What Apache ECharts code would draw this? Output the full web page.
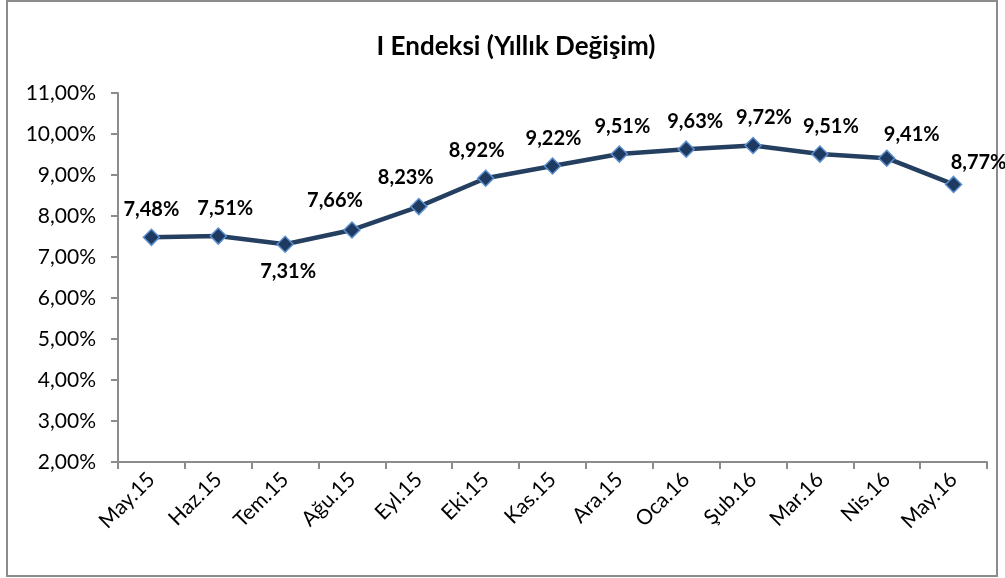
<!DOCTYPE html>
<html><head><meta charset="utf-8">
<script src="https://cdn.jsdelivr.net/npm/echarts@6/dist/echarts.min.js"></script>
<style>html,body{margin:0;padding:0;background:#fff}#c{width:1005px;height:578px}</style>
</head><body><div id="c"></div>
<script>
var categories = ['May.15','Haz.15','Tem.15','Ağu.15','Eyl.15','Eki.15','Kas.15','Ara.15','Oca.16','Şub.16','Mar.16','Nis.16','May.16'];
var values = [7.48, 7.51, 7.31, 7.66, 8.23, 8.92, 9.22, 9.51, 9.63, 9.72, 9.51, 9.41, 8.77];
var belowIdx = [2];
var labelShiftX = [0, 7, 3, -17, -13, -9, 1, 3, 9, 11, 11, 25, 25];
var labelShiftY = [0, 0, 0, -2, -1, 0, 0, 0, 0, 0, 0, 4, 6];
var fmt = function(v){ return v.toFixed(2).replace('.', ',') + '%'; };
var chart = echarts.init(document.getElementById('c'), null, {renderer:'canvas'});
var font = 'Lato, "Open Sans", sans-serif';
chart.setOption({
  animation:false,
  title:{text:'I Endeksi (Yıllık Değişim)', left:511, top:29, textAlign:'center',
    textStyle:{fontFamily:font, fontWeight:'bold', fontSize:26, color:'#000'}},
  graphic:[{type:'rect', shape:{x:7, y:1, width:990, height:575}, style:{fill:'none', stroke:'#8c8c8c', lineWidth:2}, silent:true}],
  grid:{left:118, right:18, top:93, bottom:116, containLabel:false},
  xAxis:{type:'category', data:categories, boundaryGap:true,
    axisLine:{lineStyle:{color:'#8c8c8c', width:2}},
    axisTick:{show:true, length:7, lineStyle:{color:'#8c8c8c', width:2}},
    axisLabel:{rotate:45, fontFamily:font, fontSize:21, color:'#000', margin:14, interval:0}},
  yAxis:{type:'value', min:2, max:11, interval:1,
    axisLine:{show:true, lineStyle:{color:'#8c8c8c', width:2}},
    axisTick:{show:true, length:7, lineStyle:{color:'#8c8c8c', width:2}},
    splitLine:{show:false},
    axisLabel:{formatter:fmt, fontFamily:font, fontSize:21, color:'#000', margin:22}},
  series:[{type:'line', data:values.map(function(v,i){
      return {value:v, label:{position: belowIdx.indexOf(i)>=0 ? 'bottom':'top', offset:[labelShiftX[i], labelShiftY[i]]}};
    }),
    lineStyle:{color:'#243F60', width:4.5},
    symbol:'diamond', symbolSize:16,
    itemStyle:{color:'#1F3A60', borderColor:'#5B8FD0', borderWidth:1.5},
    label:{show:true, formatter:function(p){return fmt(p.value);}, fontFamily:font, fontWeight:'bold', fontSize:20, color:'#000', distance:9}
  }]
});
</script></body></html>
